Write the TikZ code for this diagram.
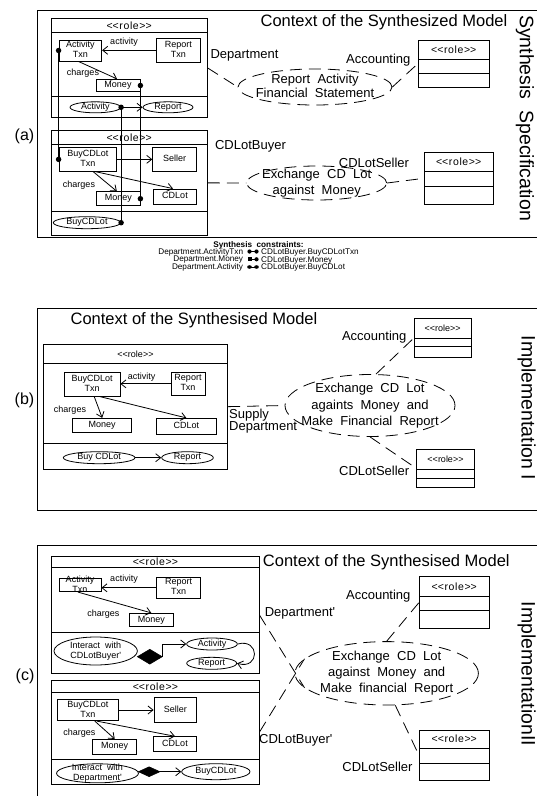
\documentclass[tikz,border=0pt]{standalone}
\usepackage{fontspec}
\setmainfont{Liberation Sans}[Ligatures=TeXOff]
\usetikzlibrary{arrows.meta,shapes.geometric}

% font sizes (1pt = 1 unit of the picture)
\newcommand\fsTitle{\fontsize{16.5}{18}\selectfont}
\newcommand\fsLab{\fontsize{13}{16}\selectfont}
\newcommand\fsSmall{\fontsize{9}{10}\selectfont}
\newcommand\fsCons{\fontsize{8.2}{9}\selectfont}
\newcommand\fsSide{\fontsize{19.5}{22}\selectfont}
\newcommand\fsStereo{\fontsize{10.5}{12}\selectfont\addfontfeature{LetterSpace=6}}
\newcommand\fsStereoS{\fontsize{9}{10}\selectfont}
% zero-size centred text block, so that shapes keep their given size
\newcommand\zs[1]{\makebox[0pt]{\raisebox{-0.25em}[0pt][0pt]{\begin{tabular}{@{}c@{}}#1\end{tabular}}}}
% stereotype text; the kerns keep << and >> from turning into guillemets
\newcommand\stereotxt{<\kern0pt<role>\kern0pt>}

% role box: name, x1, y1, x2, y2, header line y, compartment line y, stereotype font
\newcommand\rolebox[8]{%
  \node[rolebody, minimum width={#4-#2}, minimum height={#5-#3}] (#1) at ({(#2+#4)/2},{(#3+#5)/2}) {};
  \draw[roleline] (#2,#6) -- (#4,#6);
  \draw[roleline] (#2,#7) -- (#4,#7);
  \node[stereo, font=#8] (#1-st) at ({(#2+#4)/2},{(#3+#6)/2}) {\stereotxt};
}

\tikzset{
  outerframe/.style={line width=1pt},
  rolebody/.style={draw, rectangle, inner sep=0pt, line width=0.9pt},
  roleline/.style={line width=0.9pt},
  stereo/.style={inner sep=0pt},
  cls/.style={draw, rectangle, inner sep=0pt, font=\fsSmall, line width=0.8pt},
  uc/.style={draw, ellipse, inner sep=0pt, font=\fsSmall, line width=0.8pt},
  collab/.style={draw, ellipse, inner sep=0pt, font=\fsLab, line width=0.8pt, dash pattern=on 12pt off 7pt},
  agg/.style={draw, diamond, fill=black, inner sep=0pt, line width=0.6pt},
  assoc/.style={line width=0.8pt, dash pattern=on 12pt off 7pt},
  arr/.style={line width=0.8pt, -{Straight Barb[length=5pt,width=8pt]}},
  link/.style={line width=0.9pt},
  joint/.style={circle, fill=black, inner sep=0pt, minimum size=5.5pt},
  smalltxt/.style={font=\fsSmall, inner sep=0pt},
  lab/.style={font=\fsLab, inner sep=0pt},
  ttl/.style={font=\fsTitle, inner sep=0pt},
  sidelabel/.style={font=\fsSide, inner sep=0pt, rotate=-90},
  tagtxt/.style={font=\fontsize{16}{18}\selectfont, inner sep=0pt},
  cons/.style={font=\fsCons, inner sep=0pt},
}

\begin{document}
\begin{tikzpicture}[x=1pt, y=-1pt]
\useasboundingbox (0,0) rectangle (537,796);

% ================= (a) Synthesis specification =================
\draw[outerframe] (545,10) -- (37.7,10) -- (37.7,237) -- (545,237);
\node[tagtxt] (tagA) at (24.5,136.7) {(a)};

% Department role
\rolebox{depA}{51}{18.3}{207.3}{117.7}{32.3}{96}{\fsStereo}
\node[cls, minimum width=42.7, minimum height=21] (actA) at (80.35,50.5) {\zs{Activity\\Txn}};
\node[cls, minimum width=43.3, minimum height=24] (rptA) at (178.35,50.3) {\zs{Report\\Txn}};
\node[cls, minimum width=44, minimum height=12.4] (monA) at (118,85.5) {\zs{Money}};
\node[uc, minimum width=50.7, minimum height=11] (actUA) at (95.35,107.3) {\zs{Activity}};
\node[uc, minimum width=50, minimum height=11] (repUA) at (168,107.3) {\zs{Report}};
\draw[arr] (rptA.west) -- (rptA.west -| actA.east);
\node[smalltxt] (actLA) at (124,42) {activity};
\draw[arr] ([xshift=-2pt]actA.south) -- ([xshift=-1pt]monA.north);
\node[smalltxt] (chgLA) at (83,73) {charges};
\draw[arr] (actUA.east) -- (repUA.west);

% CDLotBuyer role
\rolebox{buyA}{51}{130.7}{207.3}{235}{144}{211}{\fsStereo}
\node[cls, minimum width=57.7, minimum height=23.3] (txnA) at (87.85,159.35) {\zs{BuyCDLot\\Txn}};
\node[cls, minimum width=44, minimum height=24.6] (selA) at (174.7,159.35) {\zs{Seller}};
\node[cls, minimum width=43.3, minimum height=14] (monA2) at (118.35,198.7) {\zs{Money}};
\node[cls, minimum width=43.4, minimum height=15.3] (cdlA) at (175,196.65) {\zs{CDLot}};
\node[uc, minimum width=67.4, minimum height=12] (buyUA) at (87,222.7) {\zs{BuyCDLot}};
\draw[arr] (txnA.east) -- (selA.west);
\draw[arr] ([xshift=5pt]txnA.south) -- ([xshift=-1.5pt]monA2.north);
\draw[arr] ([xshift=6.5pt]txnA.south) -- ([xshift=-2pt]cdlA.north);
\node[smalltxt] (chgLA2) at (79,185) {charges};

% synthesis links between the two roles
\draw[link] (actA.west) -- (txnA.west);
\draw[link] (monA.east) -- (monA2.east);
\draw[link] (actUA.east) -- (buyUA.east);
\node[joint] (jA1) at (actA.west) {};
\node[joint] (jA2) at (txnA.west) {};
\node[joint] (jA3) at (monA.east) {};
\node[joint] (jA4) at (monA2.east) {};
\node[joint] (jA5) at (actUA.east) {};
\node[joint] (jA6) at (buyUA.east) {};

% context
\node[ttl] (ttlA) at (384,22.7) {Context of the Synthesized Model};
\node[lab] (depLA) at (244.5,55) {Department};
\node[collab, minimum width=154, minimum height=36, font=\fontsize{13}{14}\selectfont] (rptEll) at (315,87) {\zs{Report\ \ Activity\\Financial\ \ Statement}};
\node[lab] (accLA) at (378.3,60) {Accounting};
\rolebox{accA}{418.3}{40}{489.3}{87.3}{59.3}{73.3}{\fsStereo}
\draw[assoc] (depA.east) -- (rptEll.west);
\draw[assoc] (rptEll.east) -- (accA.west);
\node[lab] (buyLA) at (250.5,146) {CDLotBuyer};
\node[collab, minimum width=140, minimum height=34, font=\fontsize{13}{16}\selectfont] (excEll) at (316.7,183) {\zs{Exchange\ \ CD\ \ Lot\\against\ \ Money}};
\node[lab] (selLA) at (374,163.3) {CDLotSeller};
\rolebox{selRA}{424}{152.7}{493.3}{204}{171.7}{186}{\fsStereo}
\draw[assoc] (buyA.east) -- (excEll.west);
\draw[assoc] (excEll.east) -- (selRA.west);
\node[sidelabel] (sideA) at (525,118) {Synthesis\ \ Specification};

% synthesis constraints legend
\node[cons, font=\fsCons\bfseries] (consT) at (258.5,245) {Synthesis\ \ constraints:};
\node[cons, anchor=east] (c1l) at (243.3,252.3) {Department.ActivityTxn};
\node[cons, anchor=west] (c1r) at (261,252.3) {CDLotBuyer.BuyCDLotTxn};
\node[cons, anchor=east] (c2l) at (243.3,260) {Department.Money};
\node[cons, anchor=west] (c2r) at (261,260) {CDLotBuyer.Money};
\node[cons, anchor=east] (c3l) at (243.3,267.7) {Department.Activity};
\node[cons, anchor=west] (c3r) at (261,267.7) {CDLotBuyer.BuyCDLot};
\coordinate (k1a) at (249.5,251.5); \coordinate (k1b) at (256.5,251.5);
\coordinate (k2a) at (249.5,259.3); \coordinate (k2b) at (256.5,259.3);
\coordinate (k3a) at (249.5,267);   \coordinate (k3b) at (256.5,267);
\draw[line width=0.7pt] (k1a) -- (k1b);
\draw[line width=0.7pt] (k2a) -- (k2b);
\draw[line width=0.7pt] (k3a) -- (k3b);
\node[joint, minimum size=4.2pt] (s1a) at (k1a) {};
\node[joint, minimum size=4.2pt] (s1b) at (k1b) {};
\node[rectangle, fill=black, inner sep=0pt, minimum size=4pt] (s2a) at (k2a) {};
\node[joint, minimum size=4.2pt] (s2b) at (k2b) {};
\node[ellipse, fill=black, inner sep=0pt, minimum width=4.6pt, minimum height=3.6pt] (s3a) at (k3a) {};
\node[ellipse, fill=black, inner sep=0pt, minimum width=4.6pt, minimum height=3.6pt] (s3b) at (k3b) {};

% ================= (b) Implementation I =================
\draw[outerframe] (545,308) -- (37,308) -- (37,510) -- (545,510);
\node[tagtxt] (tagB) at (24.5,400) {(b)};
\node[ttl] (ttlB) at (194,320.7) {Context of the Synthesised Model};
\rolebox{depB}{43.3}{344.3}{227.7}{469}{363.3}{443.3}{\fsStereoS}
\node[cls, minimum width=55.7, minimum height=23.3] (txnB) at (92.15,384.35) {\zs{BuyCDLot\\Txn}};
\node[cls, minimum width=34, minimum height=22.3] (rptB) at (188,383.85) {\zs{Report\\Txn}};
\node[cls, minimum width=59, minimum height=14.4] (monB) at (102.2,425.5) {\zs{Money}};
\node[cls, minimum width=59.3, minimum height=15.7] (cdlB) at (186.35,426.15) {\zs{CDLot}};
\node[uc, minimum width=71.7, minimum height=12] (buyUB) at (99.15,457.7) {\zs{Buy CDLot}};
\node[uc, minimum width=51.6, minimum height=12] (repUB) at (187.5,457.7) {\zs{Report}};
\draw[arr] (rptB.west) -- (rptB.west -| txnB.east);
\node[smalltxt] (actLB) at (141.7,376.7) {activity};
\draw[arr] ([xshift=2pt]txnB.south) -- (monB.north);
\node[smalltxt] (chgLB) at (70,410) {charges};
\draw[arr] ([xshift=7pt]txnB.south) -- (cdlB.north);
\draw[arr] (buyUB.east) -- (repUB.west);

\node[collab, minimum width=170, minimum height=62, font=\fontsize{13}{16.3}\selectfont] (bigB) at (370,405.5) {\zs{Exchange\ \ CD\ \ Lot\\againts\ \ Money\ \ and\\Make\ \ Financial\ \ Report}};
\node[lab] (accLB) at (374.2,337.3) {Accounting};
\rolebox{accB}{414.3}{318.3}{471}{357.7}{338.3}{346}{\fsStereoS}
\node[lab] (selLB) at (374.2,470.7) {CDLotSeller};
\rolebox{selRB}{416.7}{449.3}{474.3}{487.3}{469.3}{478.3}{\fsStereoS}
\node[lab, anchor=west, align=left, font=\fontsize{13}{11.7}\selectfont] (supLB) at (229,421) {Supply\\Department};
\draw[assoc] (depB.east) -- (bigB.west);
\draw[assoc] ([xshift=6pt]bigB.north) -- (accB.west);
\draw[assoc] (bigB.south) -- (selRB.west);
\node[sidelabel] (sideB) at (526.7,408) {Implementation I};

% ================= (c) Implementation II =================
\draw[outerframe] (545,545) -- (37.7,545) -- (37.7,800);
\node[tagtxt] (tagC) at (25,676.7) {(c)};
\node[ttl] (ttlC) at (386.3,562.7) {Context of the Synthesised Model};

% Department' role
\rolebox{depC}{51.7}{556.7}{259}{673.3}{567.7}{632.7}{\fsStereo}
\node[cls, minimum width=42, minimum height=13.4] (actC) at (80,585) {\zs{Activity\\Txn}};
\node[cls, minimum width=44, minimum height=21] (rptC) at (178.7,587.8) {\zs{Report\\Txn}};
\node[cls, minimum width=44, minimum height=13.4] (monC) at (151.3,620) {\zs{Money}};
\draw[arr] (rptC.west) -- (rptC.west -| actC.east);
\node[smalltxt] (actLC) at (124,579.3) {activity};
\draw[arr] ([xshift=-2pt]actC.south) -- (monC.north);
\node[smalltxt] (chgLC) at (103.3,614) {charges};
\node[uc, minimum width=83.4, minimum height=28] (intC) at (95.7,651) {\zs{Interact\ \ with\\CDLotBuyer'}};
\node[agg, minimum width=25, minimum height=15] (diaC) at (149.8,656.7) {};
\node[uc, minimum width=50.6, minimum height=12] (actUC) at (212,644) {\zs{Activity}};
\node[uc, minimum width=50, minimum height=12] (repUC) at (211.7,663.3) {\zs{Report}};
\draw[arr] (diaC.east) |- (actUC.west);
\draw[arr] (actUC.east) .. controls (260,638) and (260,670) .. (repUC.east);

% CDLotBuyer' role
\rolebox{buyC}{51.7}{680}{259}{784.3}{692.7}{759.3}{\fsStereo}
\node[cls, minimum width=61, minimum height=21.4] (txnC) at (87.8,710) {\zs{BuyCDLot\\Txn}};
\node[cls, minimum width=42.7, minimum height=25.4] (selC) at (175.35,710) {\zs{Seller}};
\node[cls, minimum width=44, minimum height=14.7] (monC2) at (114.7,746.65) {\zs{Money}};
\node[cls, minimum width=43.4, minimum height=15] (cdlC) at (175,744.2) {\zs{CDLot}};
\draw[arr] (txnC.east) -- (selC.west);
\draw[arr] ([xshift=7pt]txnC.south) -- (monC2.north);
\draw[arr] ([xshift=9pt]txnC.south) -- (cdlC.north);
\node[smalltxt] (chgLC2) at (79.3,733.3) {charges};
\node[uc, minimum width=82, minimum height=19] (intC2) at (97.5,773.3) {\zs{Interact\ \ with\\Department'}};
\node[agg, minimum width=21.7, minimum height=10] (diaC2) at (149.15,771.7) {};
\node[uc, minimum width=68.3, minimum height=16] (buyUC) at (215.85,771.7) {\zs{BuyCDLot}};
\draw[arr] (diaC2.east) -- (buyUC.west);

% context
\node[lab] (depLC) at (300,613.3) {Department'};
\node[lab] (buyLC) at (295.8,740.7) {CDLotBuyer'};
\node[collab, minimum width=183.4, minimum height=63.4, font=\fontsize{13}{16}\selectfont] (bigC) at (386.7,673.3) {\zs{Exchange\ \ CD\ \ Lot\\against\ \ Money\ \ and\\Make\ \ financial\ \ Report}};
\draw[assoc] (depC.east) -- (bigC.190);
\draw[assoc] (buyC.east) -- (bigC.170);
\node[lab] (accLC) at (378.3,596) {Accounting};
\rolebox{accC}{419.3}{576.7}{489.3}{628.7}{596}{610}{\fsStereo}
\node[lab] (selLC) at (377.5,766.7) {CDLotSeller};
\rolebox{selRC}{419.3}{730}{489.3}{780}{748.3}{763.3}{\fsStereo}
\draw[assoc] (bigC.north) -- (accC.west);
\draw[assoc] (bigC.-75) -- (selRC.west);
\node[sidelabel] (sideC) at (526.7,674) {ImplementationII};

\end{tikzpicture}
\end{document}
